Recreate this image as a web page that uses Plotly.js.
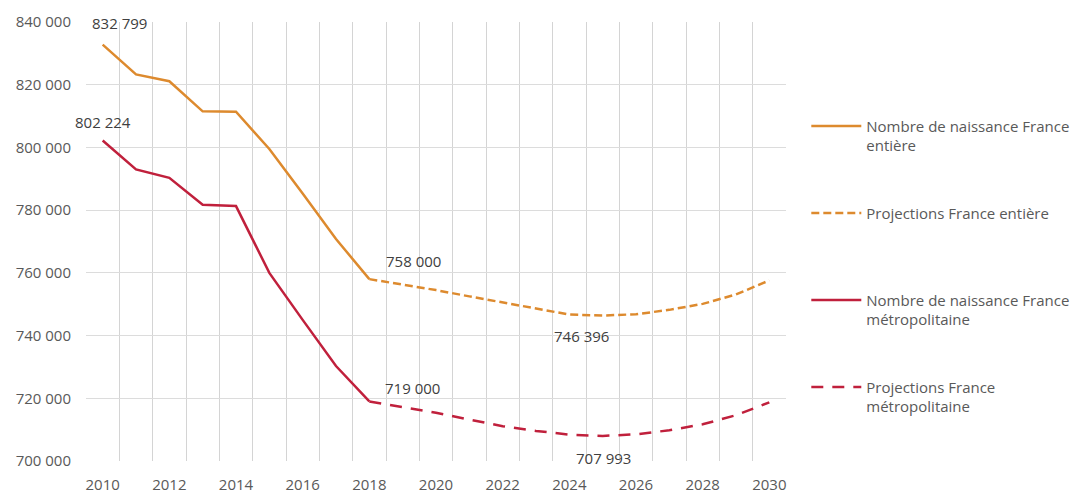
<!DOCTYPE html>
<html>
<head>
<meta charset="utf-8">
<script src="https://cdn.plot.ly/plotly-3.0.1.min.js"></script>
<style>html,body{margin:0;padding:0;background:#fff;}#chart{width:1081px;height:496px;}</style>
</head>
<body>
<div id="chart"></div>
<script>
// ---- Data ----
const histYears = [2010, 2011, 2012, 2013, 2014, 2015, 2016, 2017, 2018];
const histEntiere = [832799, 823300, 821100, 811500, 811400, 799500, 785300, 770800, 758000];
const histMetro = [802224, 792996, 790290, 781700, 781300, 760000, 745000, 730300, 719000];

const projYears = [2018, 2019, 2020, 2021, 2022, 2023, 2024, 2025, 2026, 2027, 2028, 2029, 2030];
const projEntiere = [758000, 756300, 754500, 752500, 750500, 748500, 746700, 746396, 746800, 748200, 750100, 753100, 757600];
const projMetro = [719000, 717200, 715400, 713200, 711100, 709600, 708400, 707993, 708500, 709800, 711700, 714600, 718700];

const xTickVals = [2010, 2012, 2014, 2016, 2018, 2020, 2022, 2024, 2026, 2028, 2030];
const yTickVals = [700000, 720000, 740000, 760000, 780000, 800000, 820000, 840000];

const names = [
  "Nombre de naissance France<br>entière",
  "Projections France entière<br> ",
  "Nombre de naissance France<br>métropolitaine",
  "Projections France<br>métropolitaine"
];

const ORANGE = "#DD8A2E";
const RED = "#C0203C";
const TXT = "#595959";
const FONT = "'Open Sans', sans-serif";

function fmt(v) { return String(Math.round(v)).replace(/\B(?=(\d{3})+(?!\d))/g, " "); }

const traces = [
  {x: histYears, y: histEntiere, name: names[0], mode: "lines", line: {color: ORANGE, width: 2.5}, legendgroup: "a"},
  {x: projYears, y: projEntiere, name: names[1], mode: "lines", line: {color: ORANGE, width: 2.5, dash: "8px,4px"}, legendgroup: "b"},
  {x: histYears, y: histMetro, name: names[2], mode: "lines", line: {color: RED, width: 2.5}, legendgroup: "c"},
  {x: projYears, y: projMetro, name: names[3], mode: "lines", line: {color: RED, width: 2.5, dash: "12px,9px"}, legendgroup: "d"}
];

// Data labels taken from the arrays
const iMinE = projEntiere.indexOf(Math.min(...projEntiere));
const iMinM = projMetro.indexOf(Math.min(...projMetro));
const lastH = histYears.length - 1;
const labels = [
  {x: histYears[0], y: histEntiere[0], xs: 17, ys: 22},
  {x: histYears[0], y: histMetro[0], xs: 0, ys: 18},
  {x: histYears[lastH], y: histEntiere[lastH], xs: 44, ys: 18},
  {x: histYears[lastH], y: histMetro[lastH], xs: 43, ys: 13},
  {x: projYears[iMinE], y: projEntiere[iMinE], xs: -21, ys: -20},
  {x: projYears[iMinM], y: projMetro[iMinM], xs: 1, ys: -22}
];
const annotations = labels.map(l => ({
  x: l.x, y: l.y, xref: "x", yref: "y", text: fmt(l.y), showarrow: false,
  xshift: l.xs, yshift: l.ys, font: {family: FONT, size: 15, color: "#404040"}
}));

const layout = {
  width: 1081, height: 496,
  margin: {l: 86, r: 295, t: 22, b: 35, autoexpand: false},
  paper_bgcolor: "#fff", plot_bgcolor: "#fff",
  separators: ", ",
  font: {family: FONT, size: 15, color: TXT},
  showlegend: true,
  legend: {
    x: 1.029, xanchor: "left", y: 0.80, yanchor: "top",
    font: {family: FONT, size: 15, color: TXT},
    tracegroupgap: 45, itemwidth: 50, valign: "top",
    bgcolor: "rgba(0,0,0,0)"
  },
  xaxis: {
    range: [2009.5, 2030.5], tickvals: xTickVals, ticktext: xTickVals.map(String),
    showgrid: false, zeroline: false, showline: false, ticks: "",
    ticklabelstandoff: 13,
    tickfont: {family: FONT, size: 15, color: TXT},
    minor: {tick0: 2009.5, dtick: 1, showgrid: true, gridcolor: "#d4d4d4", gridwidth: 1, ticks: ""}
  },
  yaxis: {
    range: [700000, 840000], tickvals: yTickVals, ticktext: yTickVals.map(fmt),
    showgrid: true, gridcolor: "#dcdcdc", gridwidth: 1, zeroline: false, showline: false, ticks: "",
    ticklabelstandoff: 14,
    tickfont: {family: FONT, size: 15, color: TXT}
  },
  annotations: annotations
};

Plotly.newPlot("chart", traces, layout, {displayModeBar: false, staticPlot: true});
</script>
</body>
</html>
